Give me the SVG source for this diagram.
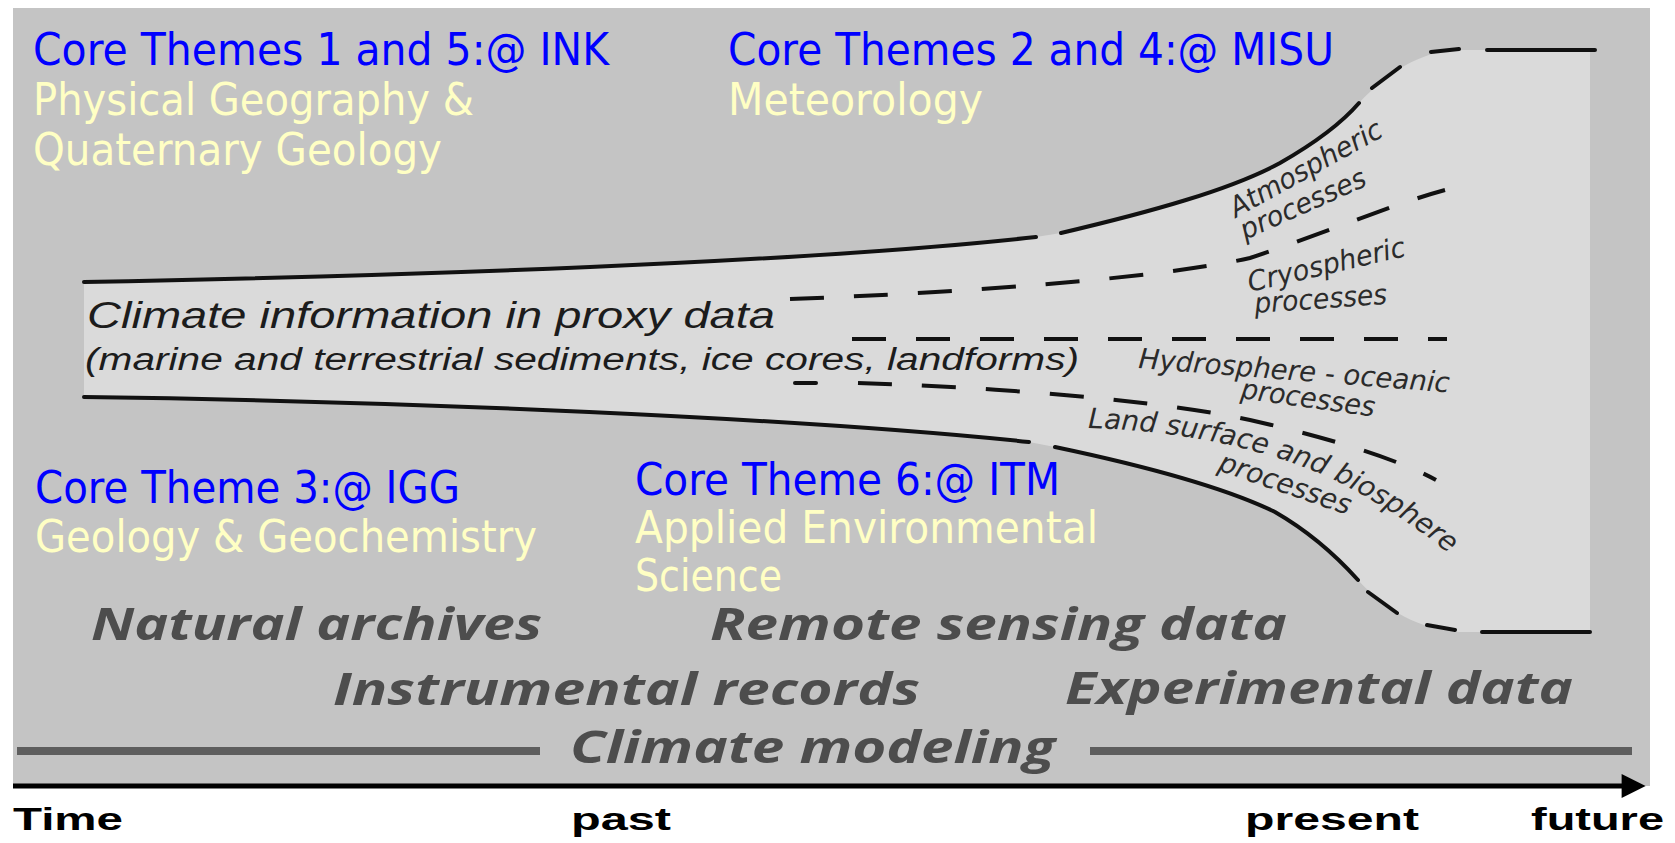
<svg xmlns="http://www.w3.org/2000/svg" width="1675" height="843" viewBox="0 0 1675 843">
<style>
.blue{font-family:"DejaVu Sans","Liberation Sans",sans-serif;font-size:44px;fill:#0000ff}
.yel{font-family:"DejaVu Sans","Liberation Sans",sans-serif;font-size:44px;fill:#ffffc4}
.src{font-family:"Open Sans","DejaVu Sans",sans-serif;font-weight:700;font-style:italic;font-size:44px;fill:#4d4d4d}
.proc{font-family:"DejaVu Sans",sans-serif;font-style:oblique;font-size:28px;fill:#2b2b2b}
.proxy{font-family:"Liberation Sans",Arial,sans-serif;font-style:italic;fill:#1c1c1c}
.solid{fill:none;stroke:#111;stroke-width:4;stroke-linecap:round}
.dash{fill:none;stroke:#111;stroke-width:4;stroke-dasharray:34 30}
.bar{stroke:#5e5e5e;stroke-width:8}
.time{font-family:"Liberation Sans",Arial,sans-serif;font-weight:700;font-size:31px;fill:#000}
</style>
<defs>
<marker id="arrow" viewBox="0 0 10 10" refX="1" refY="5" markerUnits="userSpaceOnUse" markerWidth="28" markerHeight="24" orient="auto">
<path d="M0,0 L10,5 L0,10 Z" fill="#000"/>
</marker>
<path id="landPath" d="M1088,428 C1180,430 1270,450 1330,478 C1380,502 1420,530 1452,556"/>
</defs>
<rect width="1675" height="843" fill="#ffffff"/>
<rect id="background" x="13" y="8" width="1637" height="778" fill="#c4c4c4"/>

<g id="funnel">
<path d="M84,282 C400,276 800,263 1036,237 L1061,233 C1150,212 1230,190 1280,163 C1315,143 1340,125 1359,103 C1385,75 1420,50 1460,50 L1590,50 L1590,632 L1460,632 C1420,630 1385,610 1358,580 C1340,560 1315,535 1275,512 C1230,490 1150,467 1055,447 L1029,442 C800,418 400,401 84,397 Z" fill="#dadada"/>
<path class="solid" d="M84,282 C400,276 800,263 1036,237"/>
<path class="solid" d="M1061,233 C1150,212 1230,190 1280,163 C1315,143 1340,125 1359,103"/>
<path class="solid" d="M1372,88 L1400,67 M1431,52 L1459,49 M1487,50 L1595,50"/>
<path class="solid" d="M84,397 C400,401 800,418 1029,442"/>
<path class="solid" d="M1055,447 C1150,467 1230,490 1275,512 C1315,535 1340,560 1358,580"/>
<path class="solid" d="M1368,592 L1397,613 M1427,625 L1455,630 M1482,632 L1590,632"/>
</g>

<g id="connectors">
<path class="dash" d="M790,299 C950,293 1150,280 1250,258 C1320,235 1390,205 1445,190"/>
<path class="dash" d="M852,339 L1447,339"/>
<path class="solid" d="M795,383 L816,383"/>
<path class="dash" d="M858,383 C990,387 1160,400 1250,420 C1330,438 1400,460 1436,480"/>
</g>

<g id="proxy-label">
<text class="proxy" x="87" y="328" font-size="36" textLength="688" lengthAdjust="spacingAndGlyphs">Climate information in proxy data</text>
<text class="proxy" x="85" y="370" font-size="31" textLength="994" lengthAdjust="spacingAndGlyphs">(marine and terrestrial sediments, ice cores, landforms)</text>
</g>

<g id="process-labels">
<text class="proc" transform="translate(1236,218) rotate(-29)" textLength="170" lengthAdjust="spacingAndGlyphs">Atmospheric</text>
<text class="proc" transform="translate(1245,240) rotate(-24)" textLength="135" lengthAdjust="spacingAndGlyphs">processes</text>
<text class="proc" transform="translate(1250,292) rotate(-13)" textLength="161" lengthAdjust="spacingAndGlyphs">Cryospheric</text>
<text class="proc" transform="translate(1255,313) rotate(-4)" textLength="133" lengthAdjust="spacingAndGlyphs">processes</text>
<text class="proc" transform="translate(1138,368) rotate(4.5)" textLength="312" lengthAdjust="spacingAndGlyphs">Hydrosphere - oceanic</text>
<text class="proc" transform="translate(1240,398) rotate(8)" textLength="135" lengthAdjust="spacingAndGlyphs">processes</text>
<text class="proc"><textPath href="#landPath">Land surface and biosphere</textPath></text>
<text class="proc" transform="translate(1217,470) rotate(19)" textLength="138" lengthAdjust="spacingAndGlyphs">processes</text>
</g>

<g id="theme-ink">
<text class="blue" x="33" y="65" textLength="576" lengthAdjust="spacingAndGlyphs">Core Themes 1 and 5:@ INK</text>
<text class="yel" x="33" y="115" textLength="441" lengthAdjust="spacingAndGlyphs">Physical Geography &amp;</text>
<text class="yel" x="33" y="165" textLength="409" lengthAdjust="spacingAndGlyphs">Quaternary Geology</text>
</g>
<g id="theme-misu">
<text class="blue" x="728" y="65" textLength="606" lengthAdjust="spacingAndGlyphs">Core Themes 2 and 4:@ MISU</text>
<text class="yel" x="728" y="115" textLength="255" lengthAdjust="spacingAndGlyphs">Meteorology</text>
</g>
<g id="theme-igg">
<text class="blue" x="35" y="503" textLength="425" lengthAdjust="spacingAndGlyphs">Core Theme 3:@ IGG</text>
<text class="yel" x="35" y="552" textLength="502" lengthAdjust="spacingAndGlyphs">Geology &amp; Geochemistry</text>
</g>
<g id="theme-itm">
<text class="blue" x="635" y="495" textLength="425" lengthAdjust="spacingAndGlyphs">Core Theme 6:@ ITM</text>
<text class="yel" x="635" y="543" textLength="463" lengthAdjust="spacingAndGlyphs">Applied Environmental</text>
<text class="yel" x="635" y="591" textLength="147" lengthAdjust="spacingAndGlyphs">Science</text>
</g>

<g id="data-sources">
<text class="src" x="91" y="640" textLength="451" lengthAdjust="spacingAndGlyphs">Natural archives</text>
<text class="src" x="710" y="640" textLength="577" lengthAdjust="spacingAndGlyphs">Remote sensing data</text>
<text class="src" x="333" y="705" textLength="587" lengthAdjust="spacingAndGlyphs">Instrumental records</text>
<text class="src" x="1065" y="704" textLength="508" lengthAdjust="spacingAndGlyphs">Experimental data</text>
<line class="bar" x1="17" y1="751" x2="540" y2="751"/>
<text class="src" x="570" y="763" textLength="485" lengthAdjust="spacingAndGlyphs">Climate modeling</text>
<line class="bar" x1="1090" y1="751" x2="1632" y2="751"/>
</g>

<g id="time-axis">
<line x1="13" y1="786" x2="1624" y2="786" stroke="#000" stroke-width="5" marker-end="url(#arrow)"/>
<text class="time" x="13" y="830" textLength="110" lengthAdjust="spacingAndGlyphs">Time</text>
<text class="time" x="571" y="830" textLength="100" lengthAdjust="spacingAndGlyphs">past</text>
<text class="time" x="1245" y="830" textLength="174" lengthAdjust="spacingAndGlyphs">present</text>
<text class="time" x="1531" y="830" textLength="133" lengthAdjust="spacingAndGlyphs">future</text>
</g>
</svg>
